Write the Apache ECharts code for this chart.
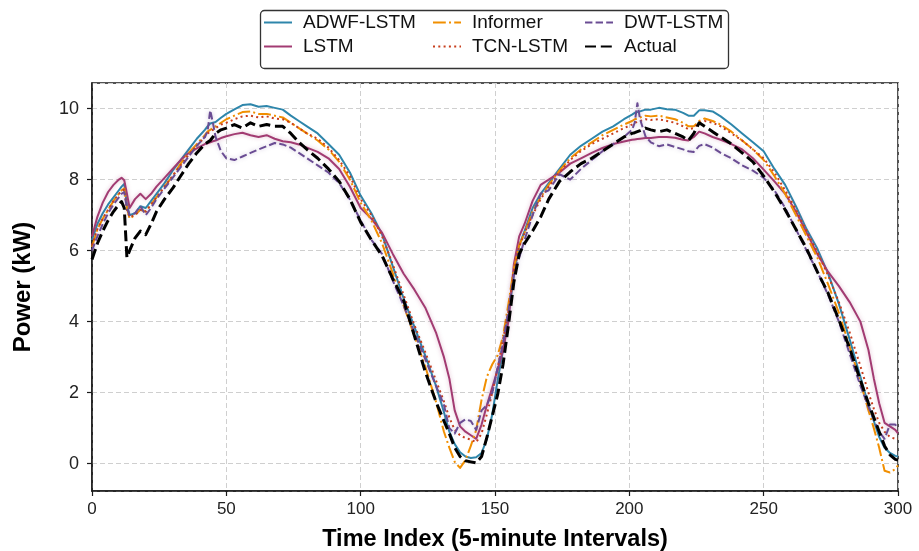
<!DOCTYPE html>
<html><head><meta charset="utf-8">
<script src="https://cdn.jsdelivr.net/npm/echarts@6/dist/echarts.min.js"></script>
<style>html,body{margin:0;padding:0;background:#fff}#c{width:919px;height:551px}</style>
</head><body><div id="c"></div>
<script>
// ---- data ----
const timeIndex = [0,2,4,6,8,10,11,12,13,14, 16,18,20,22,24,27,30,33,36,39, 42,43,44,45,46,48,50,53,56,59,
  62,65,68,71,74,77,80,84,88,92, 96,100,104,108,112,116,120,124,128,131, 133,135,137,139,141,143,145,147,149,151,
  153,155,157,159,161,164,167,170,174,178, 182,186,190,194,198,201,202,203,204,206, 208,211,214,217,220,222,224,226,228,231,
  234,238,242,246,250,254,258,262,266,270, 274,278,282,286,289,291,293,295,297,299, 300];

const actual = [5.75,6.2,6.55,6.85,7.1,7.3,7.38,7.2,5.8,6.0, 6.35,6.55,6.45,6.75,7.1,7.45,7.75,8.1,8.45,8.75,
  9.0,9.05,9.1,9.2,9.3,9.4,9.45,9.55,9.45,9.6, 9.5,9.55,9.5,9.5,9.3,9.05,8.85,8.6,8.3,7.95,
  7.45,6.8,6.3,5.85,5.2,4.6,3.6,2.6,1.75,1.2, 0.85,0.45,0.2,0.08,0.05,0.02,0.2,0.75,1.35,1.95,
  2.8,3.9,5.1,5.9,6.2,6.55,6.95,7.45,7.95,8.22, 8.45,8.6,8.8,9.0,9.2,9.3,9.32,9.35,9.38,9.45,
  9.4,9.35,9.4,9.3,9.2,9.1,9.3,9.6,9.5,9.35, 9.2,9.0,8.75,8.5,8.1,7.65,7.15,6.6,6.05,5.4,
  4.8,4.05,3.25,2.35,1.7,1.3,0.9,0.5,0.25,0.12, 0.1];

const adwfLstm = [6.3,6.75,7.05,7.3,7.5,7.7,7.8,7.88,7.3,7.0, 7.05,7.25,7.2,7.4,7.6,7.9,8.25,8.55,8.85,9.15,
  9.4,9.5,9.58,9.6,9.62,9.74,9.85,9.98,10.1,10.12, 10.05,10.07,10.02,9.97,9.8,9.65,9.5,9.3,9.0,8.7,
  8.2,7.55,7.05,6.45,5.55,4.65,3.85,3.05,2.2,1.45, 0.9,0.55,0.32,0.2,0.16,0.18,0.3,0.7,1.4,2.35,
  3.2,4.15,5.3,6.15,6.55,7.2,7.6,7.9,8.3,8.7, 8.95,9.15,9.35,9.5,9.7,9.83,9.88,9.9,9.92,9.97,
  9.97,10.02,9.98,9.97,9.88,9.8,9.8,9.95,9.95,9.92, 9.78,9.55,9.3,9.05,8.8,8.3,7.85,7.25,6.6,6.05,
  5.35,4.5,3.5,2.45,1.65,1.2,0.75,0.45,0.3,0.22, 0.2];

const informer = [6.1,6.6,6.9,7.15,7.4,7.6,7.7,7.75,7.2,6.9, 7.0,7.15,7.1,7.3,7.5,7.8,8.1,8.45,8.75,9.0,
  9.25,9.35,9.4,9.45,9.5,9.6,9.7,9.8,9.9,9.92, 9.85,9.85,9.8,9.75,9.6,9.45,9.3,9.1,8.85,8.5,
  8.0,7.35,6.85,6.2,5.35,4.45,3.6,2.75,1.75,0.9, 0.45,0.05,-0.12,0.1,0.5,0.95,1.8,2.45,2.8,3.05,
  3.6,4.5,5.5,6.15,6.5,7.1,7.5,7.85,8.25,8.6, 8.85,9.05,9.25,9.4,9.55,9.65,9.7,9.72,9.75,9.8,
  9.78,9.8,9.75,9.7,9.6,9.5,9.5,9.65,9.72,9.65, 9.55,9.35,9.1,8.85,8.55,8.1,7.6,7.0,6.4,5.8,
  5.05,4.25,3.3,2.3,1.5,1.0,0.45,-0.2,-0.25,-0.15, -0.05];

const tcnLstm = [6.15,6.6,6.9,7.15,7.4,7.6,7.68,7.72,7.15,6.95, 7.0,7.15,7.1,7.3,7.5,7.8,8.1,8.4,8.7,8.95,
  9.2,9.3,9.35,9.4,9.45,9.55,9.6,9.7,9.78,9.8, 9.75,9.78,9.72,9.7,9.6,9.45,9.3,9.15,8.9,8.55,
  8.1,7.45,7.0,6.4,5.6,4.75,3.9,3.15,2.35,1.75, 1.3,0.95,0.8,0.72,0.68,0.6,0.85,1.4,2.0,2.7,
  3.5,4.3,5.4,6.1,6.5,7.0,7.45,7.8,8.2,8.55, 8.8,9.0,9.15,9.3,9.45,9.55,9.6,9.62,9.65,9.7,
  9.68,9.7,9.65,9.6,9.5,9.42,9.45,9.6,9.65,9.6, 9.5,9.3,9.1,8.85,8.6,8.2,7.7,7.15,6.55,5.95,
  5.3,4.55,3.7,2.75,2.0,1.55,1.15,0.9,0.75,0.7, 0.7];

const lstm = [6.4,6.95,7.35,7.65,7.85,8.0,8.05,7.98,7.6,7.2, 7.45,7.6,7.45,7.6,7.8,8.05,8.3,8.55,8.75,8.88,
  9.0,9.02,9.05,9.08,9.1,9.17,9.22,9.28,9.32,9.25, 9.2,9.25,9.15,9.08,9.05,8.99,8.9,8.78,8.6,8.3,
  7.8,7.2,6.9,6.5,5.9,5.35,4.9,4.4,3.7,3.0, 2.4,1.5,1.05,0.9,0.8,0.7,1.1,1.65,2.15,2.65,
  3.2,4.0,5.6,6.4,6.75,7.4,7.85,8.0,8.2,8.45, 8.6,8.75,8.89,9.0,9.07,9.12,9.13,9.14,9.15,9.17,
  9.17,9.2,9.2,9.18,9.12,9.1,9.2,9.35,9.3,9.2, 9.12,9.0,8.85,8.6,8.28,7.95,7.6,7.1,6.5,5.9,
  5.4,5.0,4.55,4.0,3.2,2.4,1.7,1.15,1.05,0.95, 0.85];

const dwtLstm = [6.0,6.4,6.75,7.05,7.3,7.5,7.6,7.65,7.2,7.0, 7.05,7.25,7.0,7.2,7.45,7.75,8.05,8.35,8.65,8.95,
  9.2,9.35,9.95,9.6,9.2,8.8,8.6,8.55,8.65,8.75, 8.85,8.94,9.03,8.99,8.9,8.75,8.6,8.4,8.2,7.9,
  7.44,6.85,6.3,5.9,5.15,4.45,3.7,2.95,2.2,1.65, 1.0,0.85,1.15,1.25,1.2,0.95,1.5,1.65,2.0,2.7,
  3.4,4.3,5.3,5.8,6.3,7.0,7.6,7.7,8.15,8.0, 8.3,8.55,8.8,9.0,9.2,9.4,9.6,10.15,9.7,9.22,
  9.05,8.94,8.99,8.92,8.85,8.8,8.78,8.95,9.0,8.9, 8.75,8.6,8.4,8.25,8.05,7.7,7.2,6.6,6.0,5.4,
  4.75,4.0,3.1,2.2,1.6,1.25,0.9,0.7,1.1,1.1, 1.0];

const seriesNames = ['ADWF-LSTM','LSTM','Informer','TCN-LSTM','DWT-LSTM','Actual'];
const xLabel = 'Time Index (5-minute Intervals)';
const yLabel = 'Power (kW)';

// ---- chart ----
const FONT = '"Liberation Sans", Arial, Helvetica, sans-serif';
const pairs = arr => timeIndex.map((t, i) => [t, arr[i]]);
const styles = {
  'ADWF-LSTM': {color:'#2E86AB', width:2, type:'solid'},
  'LSTM':      {color:'#A23B72', width:2, type:'solid', glow:'rgba(162,59,114,0.35)'},
  'Informer':  {color:'#F18F01', width:2, type:[12.8,3.2,2,3.2]},
  'TCN-LSTM':  {color:'#C73E1D', width:2, type:[2,3.3]},
  'DWT-LSTM':  {color:'#6A4C93', width:2, type:[7.4,3.2], glow:'rgba(106,76,147,0.35)'},
  'Actual':    {color:'#000000', width:3, type:[11,4.8]}
};
const dataMap = {'ADWF-LSTM':adwfLstm,'LSTM':lstm,'Informer':informer,'TCN-LSTM':tcnLstm,'DWT-LSTM':dwtLstm,'Actual':actual};

const series = seriesNames.map(n => {
  const s = styles[n];
  const ls = {color:s.color, width:s.width, type:s.type, cap:'butt', join:'round'};
  if (s.glow) { ls.shadowColor = s.glow; ls.shadowBlur = 4; }
  return {
    name:n, type:'line', showSymbol:false, symbol:'none', smooth:false,
    data: pairs(dataMap[n]),
    lineStyle: ls,
    itemStyle:{color:s.color},
    emphasis:{disabled:true}
  };
});

const legendBase = {
  orient:'vertical', itemWidth:28, itemHeight:14, itemGap:5, padding:0,
  itemStyle:{color:'rgba(0,0,0,0)', borderWidth:0, opacity:0},
  lineStyle:{shadowBlur:0},
  textStyle:{fontFamily:FONT, fontSize:19, color:'#111', padding:[0,0,0,6]},
  selectedMode:false
};
const chart = echarts.init(document.getElementById('c'), null, {renderer:'canvas'});
chart.setOption({
  animation:false,
  backgroundColor:'#fff',
  grid:{left:92, right:21, top:83, bottom:60, outerBoundsMode:'none', containLabel:false,
        show:true, borderColor:'#1a1a1a', borderWidth:1.5, backgroundColor:'transparent'},
  legend:[
    Object.assign({}, legendBase, {data:['ADWF-LSTM','LSTM'], left:263, top:13}),
    Object.assign({}, legendBase, {data:['Informer','TCN-LSTM'], left:432, top:13}),
    Object.assign({}, legendBase, {data:['DWT-LSTM','Actual'], left:584, top:13})
  ],
  graphic:[{type:'rect', left:258, top:8, shape:{width:468, height:58, r:4}, style:{fill:'none', stroke:'#333', lineWidth:1.3}, z:100}],
  xAxis:{
    type:'value', min:0, max:300, interval:50,
    name:xLabel, nameLocation:'middle', nameGap:37,
    nameTextStyle:{fontFamily:FONT, fontSize:23.5, fontWeight:'bold', color:'#000'},
    axisLine:{show:true, onZero:false, lineStyle:{color:'#1a1a1a', width:1.5}},
    axisTick:{show:true, length:5, lineStyle:{color:'#1a1a1a', width:1.2}},
    axisLabel:{fontFamily:FONT, fontSize:17, color:'#222', margin:10},
    splitLine:{show:true, lineStyle:{color:'#cfcfcf', width:1, type:[5,3]}}
  },
  yAxis:{
    type:'value', min:-0.77, max:10.72,
    name:yLabel, nameLocation:'middle', nameGap:57, nameRotate:90,
    nameTextStyle:{fontFamily:FONT, fontSize:24, fontWeight:'bold', color:'#000'},
    axisLine:{show:true, onZero:false, lineStyle:{color:'#1a1a1a', width:1.5}},
    axisTick:{show:true, length:5, lineStyle:{color:'#1a1a1a', width:1.2}},
    axisLabel:{fontFamily:FONT, fontSize:18, color:'#222', margin:13, showMinLabel:false, showMaxLabel:false},
    splitLine:{show:true, lineStyle:{color:'#cfcfcf', width:1, type:[5,3]}}
  },
  series: series
});
</script></body></html>
